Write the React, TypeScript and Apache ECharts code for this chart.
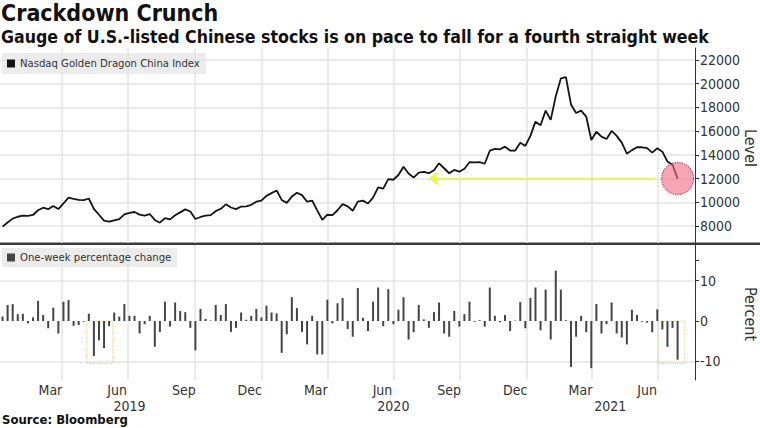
import React, { useEffect, useRef } from 'react';
import * as echarts from 'echarts';

// ---------------- data ----------------
const START_DATE = '2019-01-09'; // first weekly observation
const WEEK_DAYS = 7;

const level = [
  7950, 8300, 8620, 8780, 8880, 8850, 8930, 9330, 9540, 9420,
  9690, 9430, 9900, 10390, 10280, 10200, 10190, 10320, 9450, 8950,
  8450, 8360, 8480, 8580, 8980, 9100, 9180, 8960, 8880, 9010,
  8510, 8280, 8670, 8560, 8900, 9150, 9400, 9220, 8590, 8760,
  8870, 8920, 9250, 9450, 9830, 9560, 9420, 9640, 9660, 9790,
  10050, 10150, 10540, 10770, 11000, 10200, 9950, 10480, 10800, 10600,
  10050, 10150, 9320, 8520, 8950, 8920, 9330, 9860, 9660, 9290,
  10060, 10140, 9900, 10400, 11250, 11150, 11950, 11900, 12300, 13000,
  12430, 12080, 12500, 12560, 12450, 12700, 13290, 12870, 12450, 12730,
  12580, 12830, 13380, 13370, 13380, 13250, 14350, 14500, 14470, 14690,
  14360, 14360, 15030, 14750, 15600, 16800, 16500, 17730, 16950, 18950,
  20450, 20550, 18250, 17530, 17730, 17230, 15250, 15950, 15540, 15340,
  16020, 15600, 15030, 14100, 14400, 14640, 14640, 14570, 14190, 14560,
  14270, 13430, 13150, 12000,
];

const weeklyChange = [
  1.1, 4.0, 4.2, 1.7, 1.8, -0.6, 0.9, 5.0, 1.5, -1.8,
  3.3, -3.1, 4.8, 5.2, -1.2, -1.0, -0.2, 1.8, -8.7, -4.8,
  -6.7, -1.3, 2.1, 1.1, 4.2, 1.3, 1.3, -3.1, -0.8, 1.3,
  -6.4, -2.7, 4.8, -1.4, 4.6, 2.5, 2.2, -1.7, -7.3, 3.0,
  0.5, 0.1, 4.0, 1.5, 4.2, -2.7, -1.7, 2.1, 0.3, 1.3,
  3.0, 0.9, 3.8, 2.1, 1.9, -7.9, -3.3, 5.9, 3.2, -2.7,
  -5.8, 1.3, -8.3, -8.3, 5.3, -0.6, 4.4, 5.7, -2.0, -3.9,
  8.2, 0.8, -2.5, 4.8, 8.3, -1.3, 7.9, -0.8, 2.8, 5.9,
  -4.6, -2.8, 4.0, 0.4, -1.7, 2.2, 4.6, -3.1, -3.9, 2.5,
  -1.4, 1.7, 4.8, -0.2, 0.2, -1.4, 8.3, 1.3, -0.3, 1.5,
  -2.5, 0.1, 4.7, -1.8, 5.7, 8.3, -2.3, 7.8, -4.6, 12.5,
  7.8, 0.2, -11.4, -3.9, 1.3, -2.8, -11.7, 4.2, -3.1, -0.8,
  4.6, -3.1, -4.1, -5.8, 2.8, 1.5, -0.2, -0.4, -2.8, 2.9,
  -2.1, -6.4, -1.7, -9.6,
];

const X_MIN = '2019-01-05T12:00:00Z';
const X_MAX = '2021-08-21T00:00:00Z';

const quarterStarts = [
  '2019-04-01', '2019-07-01', '2019-10-01', '2020-01-01', '2020-04-01',
  '2020-07-01', '2020-10-01', '2021-01-01', '2021-04-01', '2021-07-01',
];
const monthLabelDates = [
  '2019-03-16', '2019-06-16', '2019-09-16', '2019-12-16', '2020-03-16',
  '2020-06-16', '2020-09-16', '2020-12-16', '2021-03-16', '2021-06-16',
];
const yearLabelDates = ['2019-07-03', '2020-07-01', '2021-04-26'];

const levelTicks = [8000, 10000, 12000, 14000, 16000, 18000, 20000, 22000];
const LEVEL_MIN = 6566;
const LEVEL_MAX = 23012;

const pctLabels = [-10, 0, 10];
const pctTicks = [-10, 0, 10, 15];
const pctGrid = [-10, 10];
const PCT_MIN = -14.64;
const PCT_MAX = 18.86;

const arrowFrom = '2021-06-27';
const arrowTo = '2020-08-18';
const arrowLevel = 12000;

const highlightBoxes = [
  ['2019-05-05', '2019-06-10'],
  ['2021-07-01', '2021-08-07'],
];
const BOX_FLOOR = -10.5;

const MONTHS = ['Jan', 'Feb', 'Mar', 'Apr', 'May', 'Jun', 'Jul', 'Aug', 'Sep', 'Oct', 'Nov', 'Dec'];

// ---------------- helpers ----------------
const ts = (d: string) => Date.parse(d.length === 10 ? d + 'T00:00:00Z' : d);
const DAY = 86400000;

const FONT = '"DejaVu Sans Condensed", "DejaVu Sans", sans-serif';
const GRID_COLOR = '#e4e4e4';
const AXIS_COLOR = '#333';

export default function App() {
  const ref = useRef<HTMLDivElement>(null);

  useEffect(() => {
    if (!ref.current) return;
    const chart = echarts.init(ref.current, undefined, { renderer: 'svg' });

    const start = ts(START_DATE);
    const dates = level.map((_, i) => start + i * WEEK_DAYS * DAY);
    const xMin = ts(X_MIN);
    const xMax = ts(X_MAX);
    const qTicks = quarterStarts.map(ts);
    const mLabels = monthLabelDates.map(ts);
    const yLabels = yearLabelDates.map(ts);
    const last = dates.length - 1;

    const baseX = (gridIndex: number) => ({
      type: 'value',
      gridIndex,
      position: 'bottom',
      min: xMin,
      max: xMax,
      axisLine: { show: false },
      axisTick: { show: false, customValues: qTicks },
      axisLabel: { show: false },
      splitLine: { show: true, lineStyle: { color: GRID_COLOR, width: 1.5 } },
    });

    const axisName = (text: string, y: number) => ({
      type: 'text',
      x: 750,
      y,
      rotation: -Math.PI / 2,
      silent: true,
      style: {
        text,
        fontSize: 16,
        fontFamily: FONT,
        fill: AXIS_COLOR,
        textAlign: 'center',
        textVerticalAlign: 'middle',
      },
    });

    const option: any = {
      animation: false,
      backgroundColor: '#fff',
      title: [
        {
          text: 'Crackdown Crunch',
          left: 1,
          top: 1,
          padding: 0,
          textStyle: { fontSize: 23, fontWeight: 'bold', color: '#111', fontFamily: FONT },
        },
        {
          text: 'Gauge of U.S.-listed Chinese stocks is on pace to fall for a fourth straight week',
          left: 1,
          top: 28,
          padding: 0,
          textStyle: { fontSize: 17.6, fontWeight: 'bold', color: '#111', fontFamily: FONT },
        },
      ],
      legend: [
        {
          data: [{ name: 'Nasdaq Golden Dragon China Index', icon: 'rect' }],
          left: 2,
          top: 53,
          orient: 'horizontal',
          backgroundColor: 'rgba(230,230,230,0.75)',
          padding: [5, 6, 5, 5],
          itemWidth: 8,
          itemHeight: 8,
          selectedMode: false,
          textStyle: { fontSize: 11.2, color: '#333', fontFamily: FONT },
        },
        {
          data: [{ name: 'One-week percentage change', icon: 'rect' }],
          left: 2,
          top: 248,
          orient: 'horizontal',
          backgroundColor: 'rgba(230,230,230,0.75)',
          padding: [4, 6, 4, 5],
          itemWidth: 8,
          itemHeight: 8,
          selectedMode: false,
          textStyle: { fontSize: 11.2, color: '#333', fontFamily: FONT },
        },
      ],
      grid: [
        { left: 0, right: 65, top: 48, height: 195, outerBoundsMode: 'none' },
        { left: 0, right: 65, top: 245, height: 135, outerBoundsMode: 'none' },
      ],
      xAxis: [
        baseX(0),
        {
          ...baseX(1),
          axisLabel: {
            show: true,
            customValues: mLabels,
            formatter: (v: number) => MONTHS[new Date(v).getUTCMonth()],
            fontSize: 14,
            color: AXIS_COLOR,
            margin: 3,
            fontFamily: FONT,
          },
        },
        {
          type: 'value',
          gridIndex: 1,
          position: 'bottom',
          min: xMin,
          max: xMax,
          offset: 16,
          axisLine: { show: false },
          axisTick: { show: false },
          splitLine: { show: false },
          axisLabel: {
            show: true,
            customValues: yLabels,
            formatter: (v: number) => String(new Date(v).getUTCFullYear()),
            fontSize: 14,
            color: AXIS_COLOR,
            margin: 3,
            fontFamily: FONT,
          },
        },
      ],
      yAxis: [
        {
          type: 'value',
          gridIndex: 0,
          position: 'right',
          min: LEVEL_MIN,
          max: LEVEL_MAX,
          axisLine: { show: true, lineStyle: { color: AXIS_COLOR, width: 1 } },
          axisTick: { show: true, length: 4, customValues: levelTicks, lineStyle: { color: AXIS_COLOR } },
          axisLabel: {
            customValues: levelTicks,
            formatter: (v: number) => String(v),
            fontSize: 14,
            color: AXIS_COLOR,
            margin: 5,
            fontFamily: FONT,
          },
          splitLine: { show: true, lineStyle: { color: GRID_COLOR, width: 1.5 } },
        },
        {
          type: 'value',
          gridIndex: 1,
          position: 'right',
          min: PCT_MIN,
          max: PCT_MAX,
          axisLine: { show: true, lineStyle: { color: AXIS_COLOR, width: 1 } },
          axisTick: { show: true, length: 4, customValues: pctTicks, lineStyle: { color: AXIS_COLOR } },
          axisLabel: {
            customValues: pctLabels,
            formatter: (v: number) => String(v),
            fontSize: 14,
            color: AXIS_COLOR,
            margin: 5,
            fontFamily: FONT,
          },
          splitLine: { show: false },
        },
        {
          type: 'value',
          gridIndex: 1,
          position: 'right',
          min: PCT_MIN,
          max: PCT_MAX,
          axisLine: { show: false },
          axisTick: { show: false, customValues: pctGrid },
          axisLabel: { show: false },
          splitLine: { show: true, lineStyle: { color: GRID_COLOR, width: 1.5 } },
        },
      ],
      series: [
        {
          type: 'line',
          name: 'Nasdaq Golden Dragon China Index',
          xAxisIndex: 0,
          yAxisIndex: 0,
          data: dates.map((d, i) => [d, level[i]]),
          symbol: 'none',
          showSymbol: false,
          lineStyle: { color: '#141414', width: 1.8 },
          itemStyle: { color: '#141414' },
          z: 3,
          markLine: {
            silent: true,
            symbol: ['none', 'arrow'],
            symbolSize: 11,
            label: { show: false },
            lineStyle: { color: '#eef05c', width: 2, type: 'solid' },
            data: [[{ coord: [ts(arrowFrom), arrowLevel] }, { coord: [ts(arrowTo), arrowLevel] }]],
          },
          markPoint: {
            silent: true,
            symbol: 'circle',
            symbolSize: 32,
            label: { show: false },
            itemStyle: {
              color: 'rgba(243,110,135,0.62)',
              borderColor: '#b03a55',
              borderWidth: 1.2,
              borderType: 'dotted',
            },
            data: [{ coord: [dates[last], level[last]] }],
          },
        },
        {
          type: 'bar',
          name: 'One-week percentage change',
          xAxisIndex: 1,
          yAxisIndex: 1,
          data: dates.map((d, i) => [d, weeklyChange[i]]),
          barWidth: 2,
          itemStyle: { color: '#454545' },
          markArea: {
            silent: true,
            itemStyle: {
              color: 'rgba(0,0,0,0)',
              borderColor: '#efd08a',
              borderWidth: 1.2,
              borderType: 'dotted',
            },
            data: highlightBoxes.map(([a, b]) => [
              { coord: [ts(a), 0] },
              { coord: [ts(b), BOX_FLOOR] },
            ]),
          },
        },
      ],
      graphic: [
        {
          type: 'rect',
          shape: { x: 0, y: 242.5, width: 760, height: 2.5 },
          style: { fill: '#3a3a3a' },
          silent: true,
        },
        axisName('Level', 148),
        axisName('Percent', 314),
        {
          type: 'text',
          x: 2,
          y: 413,
          style: {
            text: 'Source: Bloomberg',
            fontSize: 13,
            fontWeight: 'bold',
            fontFamily: FONT,
            fill: '#111',
            textVerticalAlign: 'top',
          },
          silent: true,
        },
      ],
    };

    chart.setOption(option);
    return () => chart.dispose();
  }, []);

  return (
    <div
      ref={ref}
      style={{ position: 'absolute', left: 0, top: 0, width: 760, height: 428, background: '#fff' }}
    />
  );
}
